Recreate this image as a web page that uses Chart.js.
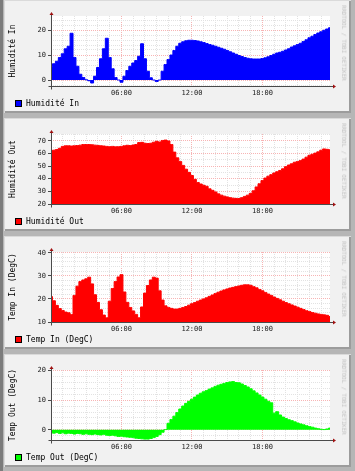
<!DOCTYPE html>
<html>
<head>
<meta charset="utf-8">
<script src="https://cdn.jsdelivr.net/npm/chart.js@4"></script>
<style>
html, body { margin: 0; padding: 0; }
body { width: 355px; height: 471px; background: #b6b6b6; position: relative; overflow: hidden; font-family: "DejaVu Sans Mono", monospace; }
#edge { position: absolute; left: 0; top: 0; width: 3px; height: 471px; background: #7c7c7c; }
.panel { position: absolute; left: 4px; width: 347px; height: 113px; background: #f1f1f1; box-shadow: inset 1px 1px 0 #dadada, inset -2px -2px 0 #9c9c9c; }
.panel canvas { position: absolute; left: 0; top: 0; }
.ytitle { position: absolute; left: 8px; top: 51px; font-size: 8px; color: #000; white-space: nowrap; transform: translate(-50%, -50%) rotate(-90deg); }
.legend { position: absolute; left: 11px; top: 99px; font-size: 8px; color: #000; white-space: nowrap; line-height: 10px; }
.legend i { display: inline-block; width: 5px; height: 5px; border: 1px solid #000; vertical-align: -1px; margin-right: 4px; }
.mark { position: absolute; left: 340px; top: 43px; font-size: 5.7px; color: #c2c2c2; white-space: nowrap; transform: translate(-50%, -50%) rotate(90deg); }
</style>
</head>
<body>
<div id="edge"></div>
<script>
// Heures d'echantillonnage (quart d'heure)
const hours = Array.from({ length: 96 }, (_, i) => i / 4);
const majorHours = [6, 12, 18];
const timeLabels = ['06:00', '12:00', '18:00'];

// Humidité In
const humIn = [
  5.5, 6.5, 7.5, 9, 10.5, 12.5, 13.5, 18.7, 9, 5.5, 2.3, 1,
  0.1, -0.3, -1.2, 1.5, 5, 8.5, 12.5, 16.7, 9, 4.5, 1, 0,
  -0.9, 1.5, 3.8, 5.5, 6.8, 7.8, 9.5, 14.5, 8.5, 3.5, 0.9, 0,
  -0.6, 0, 3.5, 6.2, 8.2, 10, 11.8, 13.5, 14.7, 15.3, 15.7, 15.9,
  15.9, 15.8, 15.6, 15.3, 15, 14.6, 14.2, 13.9, 13.5, 13.1, 12.7, 12.3,
  11.8, 11.3, 10.8, 10.3, 9.8, 9.4, 9, 8.7, 8.5, 8.4, 8.4, 8.4,
  8.6, 8.9, 9.3, 9.8, 10.3, 10.8, 11.1, 11.5, 12, 12.5, 13.2, 13.7,
  14.2, 14.7, 15.4, 16.1, 16.9, 17.5, 18.2, 18.8, 19.3, 19.9, 20.4, 20.9
];
const humInTicks = [0, 10, 20];

// Humidité Out
const humOut = [
  62, 62.5, 63, 64, 65.5, 66, 66, 65.8, 66, 66.2, 66.5, 67,
  67, 67, 66.8, 66.5, 66.3, 66, 65.8, 65.5, 65.3, 65.5, 65.2, 65.3,
  65.5, 66, 66.4, 66.2, 66.6, 67, 68.5, 68.7, 68, 67.8, 68, 68.8,
  69.5, 69, 70.2, 70.5, 69.8, 67, 61, 56.5, 53.5, 50.5, 47.5, 45,
  42.5, 39.5, 37, 35.8, 34.8, 34, 32, 30.8, 29.5, 28, 27, 26.2,
  25.6, 25, 24.6, 24.4, 24.3, 25, 26, 27, 28.4, 30.5, 33.5, 36,
  38.5, 40.5, 42, 43.2, 44.5, 45.5, 46.5, 47.8, 49.5, 50.8, 51.8, 53,
  53.5, 54.3, 55.5, 57, 58.5, 59.3, 60.2, 61.2, 62.5, 63.5, 63.2, 62.8
];
const humOutTicks = [20, 30, 40, 50, 60, 70];

// Temp In (DegC)
const tempIn = [
  21, 19.2, 17.2, 15.8, 15, 14.3, 14, 13.2, 21.5, 25.5, 27.5, 28.2,
  28.7, 29.4, 26.5, 21.8, 18.5, 15.3, 13, 11.8, 19, 24.5, 27.5, 29.5,
  30.5, 23, 18.5, 16.3, 14.8, 13.3, 11.8, 16.5, 22.5, 25.8, 28.2, 29.4,
  29, 23.5, 19.5, 17, 16.3, 15.9, 15.6, 15.6, 15.9, 16.3, 16.7, 17.3,
  17.9, 18.4, 19, 19.5, 20, 20.5, 21.1, 21.7, 22.3, 22.9, 23.4, 23.9,
  24.3, 24.7, 25, 25.3, 25.6, 25.9, 26.1, 26.1, 25.9, 25.3, 24.8, 24.1,
  23.5, 22.8, 22.1, 21.5, 20.8, 20.2, 19.6, 19, 18.4, 17.9, 17.4, 16.9,
  16.4, 15.9, 15.4, 14.9, 14.5, 14.1, 13.8, 13.5, 13.3, 13.1, 12.9, 12.4
];
const tempInTicks = [10, 20, 30, 40];

// Temp Out (DegC)
const tempOut = [
  -0.8, -1.1, -0.9, -1.2, -1, -1.3, -1.1, -1.2, -1.4, -1.2, -1.3, -1.5,
  -1.3, -1.5, -1.6, -1.4, -1.6, -1.7, -1.5, -1.8, -1.9, -1.8, -2, -2.2,
  -2.1, -2.3, -2.4, -2.5, -2.6, -2.8, -2.9, -3, -3.1, -3.1, -2.9, -2.6,
  -2.2, -1.6, -0.8, 0.1, 2.2, 3.5, 4.6, 5.8, 7, 8, 8.9, 9.6,
  10.3, 11, 11.7, 12.3, 12.8, 13.2, 13.7, 14.1, 14.6, 15, 15.3, 15.6,
  15.9, 16.1, 16.2, 15.9, 15.8, 15.4, 14.9, 14.4, 13.8, 13.1, 12.4, 11.7,
  11, 10.3, 9.6, 9.1, 5.6, 6.1, 5, 4.3, 3.8, 3.4, 3.1, 2.7,
  2.3, 2, 1.7, 1.4, 1.1, 0.9, 0.6, 0.4, 0.2, 0.1, 0.3, 0.6
];
const tempOutTicks = [0, 10, 20];

Chart.defaults.font.family = '"DejaVu Sans Mono", monospace';
Chart.defaults.font.size = 7;
Chart.defaults.color = '#222';

// cadre blanc, axes et fleches facon rrdtool
const frame = {
  id: 'frame',
  beforeDraw(chart) {
    const { ctx, chartArea: a } = chart;
    ctx.save();
    ctx.fillStyle = '#fff';
    ctx.fillRect(a.left, a.top, a.right - a.left, a.bottom - a.top);
    ctx.restore();
  },
  afterDraw(chart) {
    const { ctx, chartArea: a } = chart;
    const l = Math.round(a.left) + 0.5, b = Math.round(a.bottom) + 0.5;
    ctx.save();
    ctx.strokeStyle = '#4a4a4a';
    ctx.lineWidth = 1;
    ctx.beginPath();
    ctx.moveTo(l - 3, b); ctx.lineTo(a.right + 4, b);
    ctx.moveTo(l, b + 3); ctx.lineTo(l, a.top - 2);
    ctx.stroke();
    ctx.fillStyle = '#a01010';
    ctx.beginPath(); ctx.moveTo(l, a.top - 4); ctx.lineTo(l - 2, a.top - 1); ctx.lineTo(l + 2, a.top - 1); ctx.fill();
    ctx.beginPath(); ctx.moveTo(a.right + 6, b); ctx.lineTo(a.right + 3, b - 2); ctx.lineTo(a.right + 3, b + 2); ctx.fill();
    ctx.restore();
  }
};

function gridValues(min, max, step) {
  const out = [];
  for (let v = Math.ceil(min / step) * step; v <= max + 1e-9; v += step) out.push(Math.round(v * 100) / 100);
  return out;
}

function addPanel(i, title, values, color, yMin, yMax, step, majors) {
  const p = document.createElement('div');
  p.className = 'panel';
  p.style.top = (118 * i) + 'px';
  p.innerHTML = `<canvas width="347" height="100"></canvas>
    <div class="ytitle">${title}</div>
    <div class="legend"><i style="background:${color}"></i>${title}</div>
    <div class="mark">RRDTOOL / TOBI OETIKER</div>`;
  document.body.appendChild(p);

  new Chart(p.querySelector('canvas'), {
    type: 'line',
    data: {
      datasets: [{
        data: hours.map((h, k) => ({ x: h, y: values[k] })),
        stepped: 'middle',
        fill: 'origin',
        backgroundColor: color,
        borderColor: color,
        borderWidth: 1,
        pointRadius: 0
      }]
    },
    options: {
      responsive: false,
      animation: false,
      layout: { padding: { top: 16, right: 21, left: 0, bottom: 0 } },
      plugins: { legend: { display: false }, tooltip: { enabled: false } },
      scales: {
        x: {
          type: 'linear', min: 0, max: 23.75,
          afterFit: s => { s.height = 14; },
          afterBuildTicks: s => { s.ticks = gridValues(1, 23, 1).map(v => ({ value: v })); },
          ticks: {
            autoSkip: false, maxRotation: 0, padding: 3,
            callback: v => majorHours.includes(v) ? timeLabels[majorHours.indexOf(v)] : ''
          },
          grid: {
            drawTicks: false,
            color: c => majorHours.includes(c.tick.value) ? '#f7b4b4' : '#e2e2e2'
          },
          border: { display: false, dash: [1, 1] }
        },
        y: {
          min: yMin, max: yMax,
          afterFit: s => { s.width = 47; },
          afterBuildTicks: s => { s.ticks = gridValues(yMin, yMax, step).map(v => ({ value: v })); },
          ticks: {
            autoSkip: false, padding: 2,
            callback: v => majors.includes(v) ? String(v) : ''
          },
          grid: {
            tickLength: 3,
            color: c => majors.includes(c.tick.value) ? '#f7b4b4' : '#e2e2e2',
            tickColor: c => majors.includes(c.tick.value) ? '#4a4a4a' : 'rgba(0,0,0,0)'
          },
          border: { display: false, dash: [1, 1] }
        }
      }
    },
    plugins: [frame]
  });
}

addPanel(0, 'Humidité In', humIn, '#0000ff', -2.4, 25.6, 2, humInTicks);
addPanel(1, 'Humidité Out', humOut, '#ff0000', 20, 75.3, 5, humOutTicks);
addPanel(2, 'Temp In (DegC)', tempIn, '#ff0000', 10, 40.3, 2, tempInTicks);
addPanel(3, 'Temp Out (DegC)', tempOut, '#00ff00', -3.4, 20.1, 2, tempOutTicks);
</script>
</body>
</html>
